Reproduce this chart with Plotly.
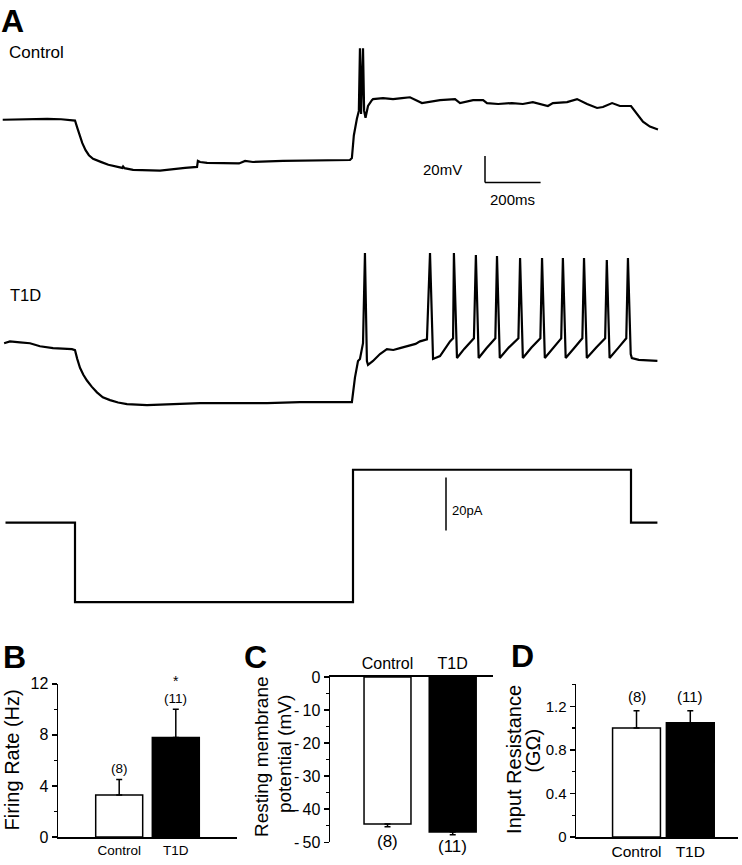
import plotly.graph_objects as go

# ---------------- data ----------------
# Panel A traces: (time in ms, membrane potential in mV)
CONTROL_POINTS = [
    (-10, -60.0), (60, -59.6), (150, -59.3), (200, -59.6), (250, -60.6),
    (258, -66.0), (266, -71.5), (276, -77.5), (288, -83.0), (300, -86.8),
    (315, -89.5), (330, -91.0), (345, -92.0), (370, -94.0), (412, -96.3),
    (420, -96.4), (423, -95.3), (428, -96.6), (459, -97.8), (556, -98.5),
    (646, -96.3), (689, -95.6), (692, -91.1), (700, -91.9), (725, -92.6),
    (818, -93.3), (840, -93.0), (862, -91.1), (890, -91.9), (998, -91.1),
    (1100, -90.9), (1239, -90.4), (1246, -88.9), (1253, -71.9), (1264, -59.3),
    (1271, -53.3), (1275, -5.9), (1279, -55.6), (1286, -5.9), (1290, -53.3),
    (1295, -58.5), (1304, -49.6), (1318, -45.2), (1322, -44.4), (1358, -43.7),
    (1394, -44.4), (1426, -43.7), (1455, -43.0), (1498, -47.4), (1534, -45.9),
    (1563, -45.2), (1617, -44.4), (1635, -47.4), (1682, -45.2), (1718, -45.2),
    (1732, -47.4), (1772, -48.1), (1822, -47.4), (1861, -48.1), (1897, -46.7),
    (1923, -48.1), (1951, -49.6), (1969, -47.4), (2020, -46.7), (2056, -44.4),
    (2092, -48.1), (2128, -51.1), (2149, -50.4), (2182, -47.4), (2210, -49.6),
    (2250, -49.6), (2272, -55.6), (2293, -61.5), (2318, -65.2), (2347, -67.4),
]
T1D_POINTS = [
    (-5, -60.7), (16, -59.3), (52, -60.0), (88, -60.7), (124, -63.0),
    (171, -64.4), (239, -65.2), (250, -65.9), (258, -72.5), (268, -79.3),
    (280, -84.5), (293, -88.9), (310, -93.5), (329, -97.8), (350, -101.5),
    (376, -103.7), (405, -105.5), (437, -106.7), (509, -107.4), (603, -106.7),
    (700, -105.9), (818, -105.9), (941, -105.9), (1059, -105.2), (1178, -105.2),
    (1246, -105.2), (1250, -98.5), (1257, -86.7), (1268, -74.1), (1275, -72.6),
    (1286, -60.7), (1293, 7.4), (1300, -74.1), (1304, -77.0), (1322, -74.1),
    (1347, -68.9), (1372, -65.2), (1395, -65.8), (1419, -64.4), (1437, -63.5),
    (1455, -62.2), (1475, -61.2), (1491, -59.3), (1516, -57.8), (1527, 7.4),
    (1538, -72.6), (1563, -70.4), (1599, -59.3), (1610, -57.0), (1613, 7.4),
    (1624, -71.9), (1650, -65.0), (1685, -57.0), (1692, 5.9), (1702, -71.9),
    (1730, -64.5), (1762, -57.0), (1768, 5.2), (1778, -71.9), (1810, -64.0),
    (1845, -57.0), (1851, 3.7), (1861, -71.9), (1892, -64.0), (1924, -57.0),
    (1930, 3.7), (1940, -71.9), (1970, -64.5), (1999, -57.0), (2005, 3.7),
    (2015, -71.9), (2045, -64.5), (2075, -57.0), (2081, 3.7), (2091, -71.9),
    (2125, -64.0), (2157, -57.0), (2163, 2.2), (2173, -71.9), (2205, -64.0),
    (2233, -57.0), (2239, 3.7), (2249, -68.9), (2253, -71.9), (2278, -73.3),
    (2345, -74.0),
]
# Injected current: (time in ms, current in pA)
CURRENT_POINTS = [
    (0, 0), (250, 0), (250, -30), (1250, -30), (1250, 20),
    (2250, 20), (2250, 0), (2345, 0),
]
SCALE_TIME_MS = 200
SCALE_VOLT_MV = 20
SCALE_CURR_PA = 20

# Panels B-D
GROUPS = ["Control", "T1D"]
GROUP_N = [8, 11]
FIRING_RATE = [3.3, 7.8]
FIRING_RATE_SEM = [1.2, 2.2]
RMP = [-44.5, -46.9]
RMP_SEM = [0.8, 0.8]
RIN = [1.0, 1.05]
RIN_SEM = [0.16, 0.11]
BAR_COLORS = ["white", "black"]
RMP_TICKS = [0, -10, -20, -30, -40, -50]

# ---------------- layout helpers (pixel positions) ----------------
W, H = 742, 865
FONT = "Liberation Sans, Arial, Helvetica, sans-serif"


def fx(px):
    return px / W


def fy(py):
    return 1 - py / H


PX_PER_MS = 0.278
X0_PX = 5.5


def t_at(px):
    return (px - X0_PX) / PX_PER_MS


def y_range(top, bot, ref_px, ref_val, ppu):
    return [ref_val - (bot - ref_px) / ppu, ref_val + (ref_px - top) / ppu]


MV_PPU = 1.35
PA_PPU = 2.7
CTRL_DOM = (25, 215)
T1D_DOM = (230, 430)
CUR_DOM = (440, 640)
ctrl_range = y_range(*CTRL_DOM, 114, -60, MV_PPU)
t1d_range = y_range(*T1D_DOM, 341, -60, MV_PPU)
cur_range = y_range(*CUR_DOM, 525, 0, PA_PPU)


def v_ctrl(py):
    return -60 - (py - 114) / MV_PPU


def i_cur(py):
    return -(py - 525) / PA_PPU


fig = go.Figure()


def unzip(points):
    return [p[0] for p in points], [p[1] for p in points]


line_style = dict(color="black", width=2.2)
for pts, ya in [(CONTROL_POINTS, "y"), (T1D_POINTS, "y2"), (CURRENT_POINTS, "y3")]:
    xs, ys = unzip(pts)
    fig.add_trace(go.Scatter(x=xs, y=ys, mode="lines", line=line_style,
                             xaxis="x", yaxis=ya, hoverinfo="skip", showlegend=False))

# Bars
bar_line = dict(color="black", width=1.5)


def err(plus, minus):
    return dict(type="data", symmetric=False, array=plus, arrayminus=minus,
                color="black", thickness=1.5, width=3)


fig.add_trace(go.Bar(x=GROUPS, y=FIRING_RATE, width=0.83,
                     marker=dict(color=BAR_COLORS, line=bar_line),
                     error_y=err(FIRING_RATE_SEM, [0, 0]),
                     xaxis="x4", yaxis="y4", showlegend=False, hoverinfo="skip"))
fig.add_trace(go.Bar(x=GROUPS, y=RMP, width=0.72,
                     marker=dict(color=BAR_COLORS, line=bar_line),
                     error_y=err([0, 0], RMP_SEM),
                     xaxis="x5", yaxis="y5", showlegend=False, hoverinfo="skip"))
fig.add_trace(go.Bar(x=GROUPS, y=RIN, width=0.89,
                     marker=dict(color=BAR_COLORS, line=bar_line),
                     error_y=err(RIN_SEM, [0, 0]),
                     xaxis="x6", yaxis="y6", showlegend=False, hoverinfo="skip"))

# Scale bars (panel A)
sb_t = t_at(485)
sb_v = v_ctrl(178)
pa_t = t_at(446)
pa_i = i_cur(533)
sb = dict(color="black", width=1.5)
fig.add_shape(type="line", xref="x", yref="y", x0=sb_t, x1=sb_t,
              y0=sb_v, y1=sb_v + SCALE_VOLT_MV, line=sb)
fig.add_shape(type="line", xref="x", yref="y", x0=sb_t, x1=sb_t + SCALE_TIME_MS,
              y0=sb_v, y1=sb_v, line=sb)
fig.add_shape(type="line", xref="x", yref="y3", x0=pa_t, x1=pa_t,
              y0=pa_i, y1=pa_i + SCALE_CURR_PA, line=sb)

ann = []


def txt(text, x, y, size, xref="paper", yref="paper", xanchor="center",
        yanchor="middle", angle=0, yshift=0):
    ann.append(dict(text=text, x=x, y=y, xref=xref, yref=yref, xanchor=xanchor,
                    yanchor=yanchor, textangle=angle, showarrow=False, yshift=yshift,
                    font=dict(family=FONT, size=size, color="black")))


txt(f"{SCALE_VOLT_MV}mV", t_at(464), v_ctrl(165), 15, xref="x", yref="y", xanchor="right")
txt(f"{SCALE_TIME_MS}ms", sb_t + SCALE_TIME_MS / 2, v_ctrl(195), 15, xref="x", yref="y")
txt(f"{SCALE_CURR_PA}pA", t_at(450), i_cur(513), 13, xref="x", yref="y3", xanchor="left")

# Panel letters and trace labels
txt("<b>A</b>", fx(12.5), fy(13.5), 32)
txt("<b>B</b>", fx(14), fy(662), 32)
txt("<b>C</b>", fx(255), fy(662), 32)
txt("<b>D</b>", fx(522), fy(661), 32)
txt("Control", fx(7), fy(45), 17, xanchor="left")
txt("T1D", fx(8), fy(293), 16.5, xanchor="left")

# Axis titles
txt("Firing Rate (Hz)", fx(11.5), fy(767), 20, angle=-90)
txt("Resting membrane", fx(262), fy(764), 19, angle=-90)
txt("potential (mV)", fx(284), fy(761), 19, angle=-90)
txt("Input Resistance", fx(514), fy(767), 20, angle=-90)
txt("(G\u03a9)", fx(533), fy(733), 20, angle=-90, yanchor="top")

# n labels
for i in range(2):
    txt(f"({GROUP_N[i]})", i, FIRING_RATE[i] + FIRING_RATE_SEM[i], 13.5,
        xref="x4", yref="y4", yshift=11 if i == 0 else 11)
    txt(f"({GROUP_N[i]})", i, RMP[i] - RMP_SEM[i], 17,
        xref="x5", yref="y5", yshift=-15 if i == 0 else -12)
    txt(f"({GROUP_N[i]})", i, RIN[i] + RIN_SEM[i], 15,
        xref="x6", yref="y6", yshift=14)
txt("*", 1, FIRING_RATE[1] + FIRING_RATE_SEM[1], 14, xref="x4", yref="y4", yshift=28)

axis_line = dict(showline=True, linecolor="black", linewidth=1.5, showgrid=False,
                 zeroline=False, fixedrange=True)


def yax(dom, rng, vals, texts, minor, size):
    d = dict(axis_line)
    d.update(domain=dom, range=rng, tickvals=vals, ticktext=texts, ticks="outside",
             ticklen=5, tickwidth=1.5, tickcolor="black",
             minor=dict(tickvals=minor, ticks="outside", ticklen=3, tickwidth=1.5,
                        tickcolor="black"),
             tickfont=dict(family=FONT, size=size, color="black"))
    return d


def xax(dom, rng, size, anchor, side="bottom"):
    d = dict(axis_line)
    d.update(domain=dom, range=rng, type="category", ticks="", anchor=anchor, side=side,
             tickfont=dict(family=FONT, size=size, color="black"))
    return d


rmp_text = [("-\u2009" + str(-v)) if v < 0 else str(v) for v in RMP_TICKS]

fig.update_layout(
    width=W, height=H, autosize=False,
    margin=dict(l=0, r=0, t=0, b=0, pad=0),
    paper_bgcolor="white", plot_bgcolor="white",
    showlegend=False, annotations=ann, hovermode=False,
    xaxis=dict(domain=[0, 1], range=[t_at(0), t_at(W)], visible=False, anchor="y"),
    yaxis=dict(domain=[fy(CTRL_DOM[1]), fy(CTRL_DOM[0])], range=ctrl_range,
               visible=False, anchor="x"),
    yaxis2=dict(domain=[fy(T1D_DOM[1]), fy(T1D_DOM[0])], range=t1d_range,
                visible=False, anchor="x"),
    yaxis3=dict(domain=[fy(CUR_DOM[1]), fy(CUR_DOM[0])], range=cur_range,
                visible=False, anchor="x"),
    xaxis4=xax([fx(58), fx(237)], [-1.081, 2.081], 13.5, "y4"),
    yaxis4=dict(yax([fy(845.7), fy(689.3)], [0, 12], [0, 4, 8, 12],
                    ["0", "4", "8", "12"], [2, 6, 10], 16), anchor="x4"),
    xaxis5=xax([fx(330), fx(493)], [-0.882, 1.618], 16, "y5", side="top"),
    yaxis5=dict(yax([fy(851), fy(682.3)], [-50, 0], RMP_TICKS, rmp_text,
                    [-5, -15, -25, -35, -45], 16), anchor="x5"),
    xaxis6=xax([fx(576), fx(738)], [-1.125, 1.887], 15.5, "y6"),
    yaxis6=dict(yax([fy(845.7), fy(689.3)], [0, 1.407], [0, 0.4, 0.8, 1.2],
                    ["0", "0.4", "0.8", "1.2"], [0.2, 0.6, 1.0, 1.4], 15), anchor="x6"),
    bargap=0,
)

# Remove the browser's default 8px page margin so the figure fills the window.
fig.write_html("out.html",
               config={"displayModeBar": False, "staticPlot": True},
               post_script="document.body.style.margin='0px';"
                           "document.body.style.overflow='hidden';")
